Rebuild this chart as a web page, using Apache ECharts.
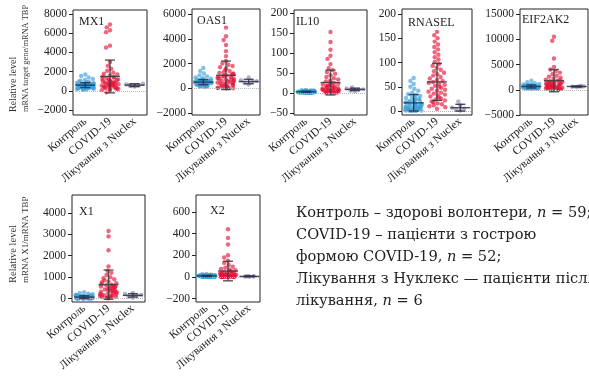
<!DOCTYPE html>
<html>
<head>
<meta charset="utf-8">
<script src="https://cdn.jsdelivr.net/npm/echarts@6/dist/echarts.min.js"></script>
<style>
  html, body { margin: 0; padding: 0; background: #fff; }
  #chart { width: 589px; height: 377px; }
</style>
</head>
<body>
<div id="chart"></div>
<script>
const groups = ['Контроль', 'COVID-19', 'Лікування з Nuclex'];

// MX1
const mx1Control = [1700, 1550, 1400, 1250, 1150, 1050, 980, 920, 880, 850, 820, 800, 780, 760, 740, 720, 700, 690, 680, 670, 660, 650, 640, 630, 620, 610, 600, 590, 580, 570, 560, 550, 540, 530, 520, 510, 500, 490, 480, 470, 460, 450, 440, 430, 420, 400, 380, 360, 340, 320, 300, 280, 260, 240, 220, 200, 180, 150, 120];
const mx1Covid = [6900, 6600, 6300, 6100, 4700, 4500, 3000, 2600, 2300, 2100, 1900, 1800, 1700, 1600, 1500, 1450, 1400, 1300, 1250, 1200, 1150, 1100, 1050, 1000, 950, 900, 880, 850, 820, 800, 760, 720, 700, 680, 650, 620, 600, 560, 520, 500, 460, 420, 400, 360, 320, 280, 250, 200, 160, 120, 80, -150];
const mx1Nuclex = [450, 520, 580, 620, 680, 750];
const mx1Mean = [600, 1500, 600];
const mx1Sd = [250, 1700, 150];
const mx1Ticks = [-2000, 0, 2000, 4000, 6000, 8000];

// OAS1
const oas1Control = [1650, 1400, 1200, 1050, 950, 880, 820, 780, 740, 700, 680, 660, 640, 620, 600, 590, 580, 570, 560, 550, 540, 530, 520, 510, 500, 490, 480, 470, 460, 450, 440, 430, 420, 410, 400, 390, 380, 370, 360, 350, 340, 330, 320, 310, 300, 290, 280, 270, 260, 250, 240, 230, 220, 200, 180, 160, 140, 120, 100];
const oas1Covid = [4900, 4200, 3900, 3500, 3000, 2600, 2200, 2000, 1900, 1800, 1700, 1600, 1500, 1400, 1300, 1250, 1200, 1150, 1100, 1050, 1000, 950, 900, 870, 840, 800, 760, 720, 700, 650, 600, 580, 550, 500, 470, 440, 400, 370, 340, 300, 270, 240, 200, 170, 140, 110, 80, 60, 40, 20, 10, 0];
const oas1Nuclex = [320, 450, 520, 580, 650, 880];
const oas1Mean = [500, 1050, 550];
const oas1Sd = [200, 1150, 180];
const oas1Ticks = [-2000, 0, 2000, 4000, 6000];

// IL10
const il10Control = [7.5, 7, 6.5, 6, 5.8, 5.5, 5.2, 5, 4.8, 4.6, 4.4, 4.2, 4, 3.9, 3.8, 3.7, 3.6, 3.5, 3.4, 3.3, 3.2, 3.1, 3, 3, 2.9, 2.8, 2.8, 2.7, 2.6, 2.5, 2.5, 2.4, 2.3, 2.2, 2.2, 2.1, 2, 2, 1.9, 1.8, 1.8, 1.7, 1.6, 1.5, 1.5, 1.4, 1.3, 1.2, 1.1, 1, 1, 0.9, 0.8, 0.7, 0.6, 0.5, 0.4, 0.3, 0.2];
const il10Covid = [152, 127, 108, 93, 85, 72, 62, 57, 52, 48, 44, 40, 37, 34, 31, 29, 27, 25, 23, 21, 20, 19, 18, 17, 16, 15, 14, 13, 12, 11, 10, 9.5, 9, 8.5, 8, 7.5, 7, 6.5, 6, 5.5, 5, 4.5, 4, 3.5, 3, 2.5, 2, 1.5, 1, 0.8, 0.5, 0.3];
const il10Nuclex = [4, 6, 8, 9, 11, 14];
const il10Mean = [3, 26, 9];
const il10Sd = [1.5, 31, 3];
const il10Ticks = [-50, 0, 50, 100, 150, 200];

// RNASEL
const rnaselControl = [68, 62, 56, 50, 46, 42, 38, 35, 33, 31, 29, 27, 26, 25, 24, 23, 22, 21, 20, 19, 18, 17, 16, 15, 15, 14, 13, 12, 12, 11, 10, 10, 9, 9, 8, 8, 7, 7, 6, 6, 5, 5, 5, 4, 4, 4, 3, 3, 3, 2, 2, 2, 1.5, 1.5, 1, 1, 0.5, 0.5, 0.2];
const rnaselCovid = [163, 156, 150, 143, 137, 132, 127, 121, 116, 111, 106, 101, 97, 93, 89, 85, 82, 79, 76, 73, 70, 67, 64, 62, 60, 58, 56, 54, 52, 50, 48, 46, 44, 42, 40, 38, 36, 34, 32, 30, 28, 26, 24, 22, 20, 18, 16, 14, 12, 10, 8, 5];
const rnaselNuclex = [1, 3, 5, 7, 12, 20];
const rnaselMean = [17, 60, 7];
const rnaselSd = [17, 38, 7];
const rnaselTicks = [0, 50, 100, 150, 200];

// EIF2AK2
const eifControl = [1800, 1500, 1300, 1150, 1050, 980, 920, 870, 830, 800, 780, 760, 740, 720, 710, 700, 690, 680, 670, 660, 650, 640, 630, 620, 610, 600, 590, 580, 570, 560, 550, 540, 530, 520, 510, 500, 490, 480, 470, 460, 450, 440, 430, 420, 410, 400, 390, 380, 370, 360, 350, 340, 320, 300, 280, 260, 240, 220, 200];
const eifCovid = [10500, 9700, 6200, 4500, 4000, 3700, 3400, 3100, 2800, 2600, 2400, 2200, 2000, 1900, 1800, 1700, 1600, 1500, 1400, 1350, 1300, 1250, 1200, 1150, 1100, 1050, 1000, 950, 900, 850, 800, 760, 720, 680, 640, 600, 560, 520, 480, 440, 400, 360, 320, 280, 240, 200, 170, 140, 110, 80, 50, 20];
const eifNuclex = [550, 600, 630, 670, 700, 750];
const eifMean = [650, 1800, 650];
const eifSd = [300, 2200, 100];
const eifTicks = [-5000, 0, 5000, 10000, 15000];

// X1
const x1Control = [300, 260, 230, 200, 180, 160, 150, 140, 130, 120, 115, 110, 105, 100, 95, 90, 88, 85, 82, 80, 78, 75, 72, 70, 68, 65, 62, 60, 58, 55, 52, 50, 48, 45, 42, 40, 38, 36, 34, 32, 30, 28, 26, 24, 22, 20, 18, 16, 14, 12, 10, 9, 8, 7, 6, 5, 4, 3, 2];
const x1Covid = [3150, 2900, 2250, 1500, 1300, 1200, 1100, 1000, 950, 900, 850, 800, 760, 720, 680, 650, 620, 600, 580, 560, 540, 520, 500, 480, 460, 440, 420, 400, 380, 360, 340, 320, 300, 280, 260, 240, 220, 200, 180, 160, 140, 120, 100, 90, 80, 70, 60, 50, 40, 30, 20, 10];
const x1Nuclex = [40, 90, 130, 170, 210, 260];
const x1Mean = [70, 650, 150];
const x1Sd = [60, 680, 80];
const x1Ticks = [0, 1000, 2000, 3000, 4000];

// X2
const x2Control = [28, 25, 22, 20, 19, 18, 17, 16, 15, 15, 14, 14, 13, 13, 12, 12, 12, 11, 11, 11, 10, 10, 10, 10, 9, 9, 9, 9, 8, 8, 8, 8, 7, 7, 7, 7, 6, 6, 6, 6, 5, 5, 5, 5, 4, 4, 4, 4, 3, 3, 3, 3, 2, 2, 2, 1.5, 1, 0.5, 0.2];
const x2Covid = [440, 360, 300, 200, 180, 150, 130, 110, 95, 85, 75, 68, 62, 56, 50, 45, 42, 39, 36, 33, 30, 28, 26, 24, 22, 20, 18, 17, 16, 15, 14, 13, 12, 11, 10, 9, 8, 7, 6, 5, 4, 3.5, 3, 2.5, 2, 1.5, 1, 0.8, 0.6, 0.4, 0.2, 0.1];
const x2Nuclex = [2, 4, 5, 6, 8, 10];
const x2Mean = [10, 55, 6];
const x2Sd = [6, 90, 4];
const x2Ticks = [-200, 0, 200, 400, 600];

const serif = "'Liberation Serif', 'DejaVu Serif', serif";
const wideSerif = "'DejaVu Serif', 'Liberation Serif', serif";
const pointColors = ['#3f9fd8', '#e5163a', '#8a8aa8'];
const barColors = ['#17324f', '#3a3a3a', '#2b2b45'];

const panels = [
  { title: 'MX1', data: [mx1Control, mx1Covid, mx1Nuclex], mean: mx1Mean, sd: mx1Sd, ticks: mx1Ticks, min: -2500, max: 8400, box: [73, 10, 74, 105], tx: 79, ty: 22 },
  { title: 'OAS1', data: [oas1Control, oas1Covid, oas1Nuclex], mean: oas1Mean, sd: oas1Sd, ticks: oas1Ticks, min: -2150, max: 6400, box: [192, 9, 68, 106], tx: 197, ty: 21 },
  { title: 'IL10', data: [il10Control, il10Covid, il10Nuclex], mean: il10Mean, sd: il10Sd, ticks: il10Ticks, min: -55, max: 207, box: [294, 10, 73, 105], tx: 296, ty: 22 },
  { title: 'RNASEL', data: [rnaselControl, rnaselCovid, rnaselNuclex], mean: rnaselMean, sd: rnaselSd, ticks: rnaselTicks, min: -8, max: 210, box: [402, 9, 70, 106], tx: 408, ty: 23 },
  { title: 'EIF2AK2', data: [eifControl, eifCovid, eifNuclex], mean: eifMean, sd: eifSd, ticks: eifTicks, min: -5000, max: 16000, box: [520, 9, 68, 106], tx: 522, ty: 20 },
  { title: 'X1', data: [x1Control, x1Covid, x1Nuclex], mean: x1Mean, sd: x1Sd, ticks: x1Ticks, min: -160, max: 4830, box: [72, 195, 73, 107], tx: 79, ty: 212 },
  { title: 'X2', data: [x2Control, x2Covid, x2Nuclex], mean: x2Mean, sd: x2Sd, ticks: x2Ticks, min: -230, max: 755, box: [196, 195, 64, 107], tx: 210, ty: 211 }
];

const fmt = v => (v < 0 ? '\u2212' + Math.abs(v) : String(v));

// mean line + SD whisker with caps
function renderBars(params, api) {
  const g = api.value(0);
  const m = api.value(1);
  const sd = api.value(2);
  const c = api.coord([g, m]);
  const hi = api.coord([g, m + sd]);
  const lo = api.coord([g, m - sd]);
  const style = { stroke: barColors[g], lineWidth: 1.4, opacity: 0.85 };
  return {
    type: 'group',
    children: [
      { type: 'line', shape: { x1: c[0] - 10, y1: c[1], x2: c[0] + 10, y2: c[1] }, style },
      { type: 'line', shape: { x1: c[0], y1: hi[1], x2: c[0], y2: lo[1] }, style },
      { type: 'line', shape: { x1: c[0] - 5, y1: hi[1], x2: c[0] + 5, y2: hi[1] }, style },
      { type: 'line', shape: { x1: c[0] - 5, y1: lo[1], x2: c[0] + 5, y2: lo[1] }, style }
    ]
  };
}

const grids = [], xAxes = [], yAxes = [], series = [], graphics = [];

panels.forEach((p, i) => {
  grids.push({
    left: p.box[0], top: p.box[1], width: p.box[2], height: p.box[3],
    show: true, borderColor: '#222', borderWidth: 1, backgroundColor: 'transparent'
  });
  xAxes.push({
    type: 'category', gridIndex: i, data: groups,
    jitter: 17, jitterOverlap: false, jitterMargin: 0,
    axisLine: { show: false },
    axisTick: { inside: true, alignWithLabel: true, length: 5, lineStyle: { color: '#222' } },
    axisLabel: { rotate: 40, interval: 0, fontSize: 11.5, color: '#222', fontFamily: serif, margin: 5 },
    splitLine: { show: false }
  });
  yAxes.push({
    type: 'value', gridIndex: i, min: p.min, max: p.max,
    axisLine: { show: false }, splitLine: { show: false },
    axisTick: { show: true, length: 4, customValues: p.ticks, lineStyle: { color: '#222' } },
    axisLabel: { customValues: p.ticks, formatter: fmt, fontSize: 11.5, color: '#222', fontFamily: serif, margin: 6 }
  });
  p.data.forEach((vals, g) => {
    const s = {
      type: 'scatter', xAxisIndex: i, yAxisIndex: i,
      data: vals.map(v => [g, v]),
      symbolSize: 4.4, silent: true, z: 2,
      itemStyle: { color: pointColors[g], opacity: 0.65 }
    };
    if (g === 0) {
      s.markLine = {
        silent: true, symbol: 'none', label: { show: false },
        lineStyle: { type: 'dotted', color: '#b8b8b8', width: 1 },
        data: [{ yAxis: 0 }]
      };
    }
    series.push(s);
  });
  series.push({
    type: 'custom', xAxisIndex: i, yAxisIndex: i, z: 5, silent: true,
    data: p.mean.map((m, g) => [g, m, p.sd[g]]),
    renderItem: renderBars
  });
  graphics.push({
    type: 'text', x: p.tx, y: p.ty,
    style: { text: p.title, fontSize: 12, fontFamily: serif, fill: '#222', verticalAlign: 'middle' }
  });
});

// y axis titles (two lines, bottom aligned)
const yTitle = (text, x, y, size) => ({
  type: 'text', x, y, rotation: Math.PI / 2,
  style: { text, fontSize: size, fontFamily: serif, fill: '#333', align: 'left', verticalAlign: 'middle' }
});
graphics.push(yTitle('Relative level', 13, 112, 10));
graphics.push(yTitle('mRNA target gene/mRNA TBP', 26, 112, 8.4));
graphics.push(yTitle('Relative level', 13, 283, 10.5));
graphics.push(yTitle('mRNA X1/mRNA TBP', 26, 283, 9));

// legend note
const noteRich = {
  r: { fontSize: 14.6, fontFamily: wideSerif, fill: '#222' },
  i: { fontSize: 14.6, fontFamily: wideSerif, fill: '#222', fontStyle: 'italic' }
};
const noteLines = [
  '{r|Контроль – здорові волонтери, }{i|n}{r| = 59;}',
  '{r|COVID-19 – пацієнти з гострою}',
  '{r|формою COVID-19, }{i|n}{r| = 52;}',
  '{r|Лікування з Нуклекс — пацієнти після}',
  '{r|лікування, }{i|n}{r| = 6}'
];
const noteY = [213, 235, 257, 279, 301];
noteLines.forEach((t, k) => {
  graphics.push({
    type: 'text', x: 296, y: noteY[k],
    style: { text: t, rich: noteRich, verticalAlign: 'middle' }
  });
});

const chart = echarts.init(document.getElementById('chart'), null, { renderer: 'canvas' });
chart.setOption({
  animation: false,
  backgroundColor: '#fff',
  grid: grids,
  xAxis: xAxes,
  yAxis: yAxes,
  series: series,
  graphic: graphics
});
</script>
</body>
</html>
